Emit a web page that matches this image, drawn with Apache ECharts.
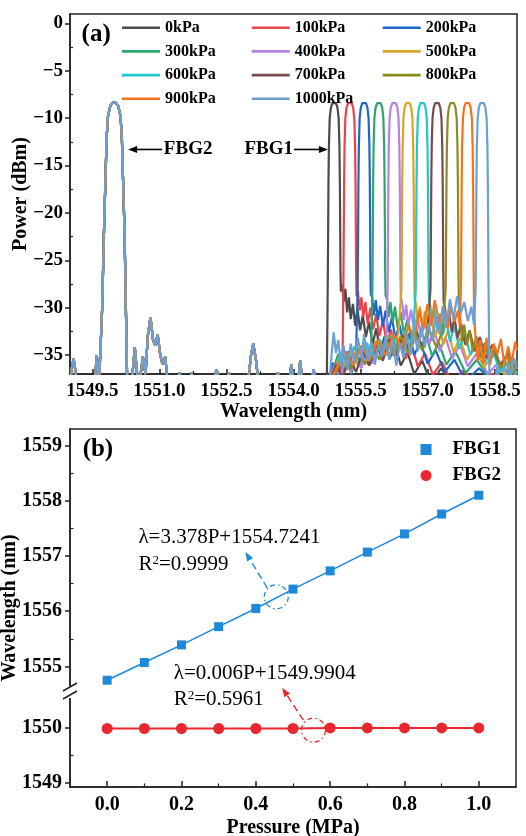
<!DOCTYPE html>
<html><head><meta charset="utf-8">
<script src="https://cdn.jsdelivr.net/npm/echarts@6/dist/echarts.min.js"></script>
<style>html,body{margin:0;padding:0;background:#fff}#c{width:526px;height:836px}</style>
</head><body><div id="c"></div>
<script>
const FONT = '"Liberation Serif","Times New Roman",serif';

// ---------- Panel (a) data ----------
const pressureNames = ['0kPa','100kPa','200kPa','300kPa','400kPa','500kPa','600kPa','700kPa','800kPa','900kPa','1000kPa'];
const lineColors = ['#4b4b4b','#e8444c','#1f66c9','#2fa46e','#b683e2','#d6a52a','#21c7c9','#7a4a4c','#8d8c1f','#f2741f','#6f9fd2'];
const wlTicks = [1549.5,1551.0,1552.5,1554.0,1555.5,1557.0,1558.5];
const wlMinor = [1550.25,1551.75,1553.25,1554.75,1556.25,1557.75];
const powerTicks = [0,-5,-10,-15,-20,-25,-30,-35];
const powerMinor = [-2.5,-7.5,-12.5,-17.5,-22.5,-27.5,-32.5];

// FBG2 region (common to all spectra), flat [wavelength, dBm, ...]
const fbg2Part = [1549.0,-38, 1549.04,-36.4, 1549.08,-35.4, 1549.12,-36.6, 1549.16,-38, 1549.55,-38, 1549.6,-35.0, 1549.65,-38, 1549.68,-38, 1549.72,-30, 1549.76,-22, 1549.79,-17, 1549.82,-12, 1549.85,-9.8, 1549.9,-8.7, 1549.96,-8.35, 1550.02,-8.35, 1550.08,-8.7, 1550.13,-9.8, 1550.16,-12, 1550.19,-17, 1550.22,-22, 1550.25,-30, 1550.28,-38, 1550.38,-38, 1550.45,-34.2, 1550.52,-38, 1550.58,-37, 1550.63,-35.2, 1550.69,-37, 1550.74,-33, 1550.80,-31, 1550.86,-33.5, 1550.91,-34, 1550.96,-32.8, 1551.02,-35, 1551.07,-36, 1551.13,-35.2, 1551.19,-38, 1551.4,-38, 1551.45,-36.8, 1551.5,-38, 1551.68,-38, 1551.72,-36.8, 1551.76,-38, 1552.2,-38, 1552.28,-36.5, 1552.35,-38, 1552.5,-38, 1552.55,-36.8, 1552.6,-38, 1552.98,-38, 1553.05,-35, 1553.1,-33.8, 1553.16,-35.5, 1553.22,-38, 1553.6,-38, 1553.65,-36.8, 1553.7,-38, 1553.9,-38, 1553.95,-36, 1554.0,-38, 1554.1,-38, 1554.15,-35.6, 1554.2,-38, 1554.4,-38, 1554.45,-36.5, 1554.5,-38];

// FBG1 region per pressure
const fbg1_0 = [1554.745,-38, 1554.765,-28, 1554.775,-22, 1554.782,-17, 1554.792,-13, 1554.81,-10, 1554.835,-8.9, 1554.87,-8.4, 1554.91,-8.25, 1554.95,-8.4, 1554.985,-8.9, 1555.01,-10, 1555.028,-13, 1555.038,-17, 1555.045,-22, 1555.05,-26, 1555.06,-28.3,
 1555.09,-27.6, 1555.12,-29.4, 1555.16,-28.0, 1555.2,-30.5, 1555.24,-28.9, 1555.28,-31.2, 1555.33,-29.6, 1555.38,-31.9, 1555.43,-30.1, 1555.49,-32.4, 1555.55,-30.8, 1555.62,-33.1, 1555.69,-31.5, 1555.77,-33.9, 1555.85,-32.2, 1555.94,-34.6, 1556.04,-33.0, 1556.15,-35.4, 1556.27,-33.8, 1556.4,-36.1, 1556.55,-34.7, 1556.7,-37.0, 1556.88,-35.6, 1557.08,-38, 1557.3,-36.4, 1557.55,-38, 1557.8,-36.9, 1558.1,-38, 1558.45,-37.2, 1558.8,-38, 1559.0,-37.5];
const fbg1_1 = [1554.8,-38, 1554.86,-36.2, 1554.93,-37.6, 1555.0,-35.4, 1555.06,-37.0, 1555.1,-34.2,
 1555.115,-28, 1555.125,-22, 1555.132,-17, 1555.142,-13, 1555.16,-10, 1555.185,-8.9, 1555.22,-8.4, 1555.26,-8.25, 1555.30,-8.4, 1555.335,-8.9, 1555.36,-10, 1555.378,-13, 1555.388,-17, 1555.395,-22, 1555.40,-26, 1555.41,-28.8,
 1555.44,-28.2, 1555.48,-30.3, 1555.52,-28.9, 1555.56,-31.0, 1555.61,-29.4, 1555.66,-31.7, 1555.72,-30.0, 1555.78,-32.3, 1555.85,-30.7, 1555.92,-33.0, 1556.0,-31.4, 1556.09,-33.8, 1556.18,-32.3, 1556.28,-34.6, 1556.39,-33.1, 1556.51,-35.4, 1556.64,-33.9, 1556.78,-36.2, 1556.94,-34.8, 1557.12,-37.1, 1557.32,-35.7, 1557.55,-38, 1557.8,-36.6, 1558.1,-38, 1558.45,-37.0, 1558.8,-38, 1559.0,-37.4];
const fbg1_2 = [1554.8,-38, 1554.88,-35.8, 1554.96,-37.4, 1555.05,-35.0, 1555.14,-36.8, 1555.23,-34.6, 1555.32,-36.5, 1555.4,-34.9,
 1555.435,-28, 1555.445,-22, 1555.452,-17, 1555.462,-13, 1555.48,-10, 1555.505,-8.9, 1555.54,-8.4, 1555.58,-8.25, 1555.62,-8.4, 1555.655,-8.9, 1555.68,-10, 1555.698,-13, 1555.708,-17, 1555.715,-22, 1555.72,-26, 1555.73,-28.6,
 1555.76,-28.9, 1555.8,-30.8, 1555.84,-29.2, 1555.89,-31.3, 1555.94,-29.8, 1556.0,-32.0, 1556.06,-30.3, 1556.13,-32.6, 1556.2,-31.0, 1556.28,-33.3, 1556.37,-31.8, 1556.47,-34.1, 1556.58,-32.7, 1556.7,-35.0, 1556.84,-33.6, 1557.0,-35.9, 1557.18,-34.5, 1557.38,-36.8, 1557.6,-35.5, 1557.85,-37.8, 1558.15,-36.4, 1558.5,-38, 1558.8,-37.1, 1559.0,-38];
const fbg1_3 = [1554.8,-38, 1554.9,-36.4, 1555.0,-34.9, 1555.1,-36.7, 1555.2,-35.1, 1555.3,-37.0, 1555.4,-34.8, 1555.5,-36.3, 1555.6,-34.5, 1555.68,-36.1, 1555.74,-33.6,
 1555.765,-28, 1555.775,-22, 1555.782,-17, 1555.792,-13, 1555.81,-10, 1555.835,-8.9, 1555.87,-8.4, 1555.91,-8.25, 1555.95,-8.4, 1555.985,-8.9, 1556.01,-10, 1556.028,-13, 1556.038,-17, 1556.045,-22, 1556.05,-26, 1556.06,-28.7,
 1556.09,-29.1, 1556.13,-31.0, 1556.17,-29.4, 1556.22,-31.6, 1556.27,-29.9, 1556.33,-32.1, 1556.4,-30.5, 1556.47,-32.8, 1556.55,-31.2, 1556.64,-33.5, 1556.74,-32.0, 1556.85,-34.3, 1556.97,-32.9, 1557.1,-35.1, 1557.25,-33.7, 1557.42,-36.0, 1557.62,-34.6, 1557.85,-36.9, 1558.1,-35.5, 1558.4,-37.6, 1558.7,-36.4, 1559.0,-37.8];
const fbg1_4 = [1554.8,-38, 1554.92,-36.0, 1555.04,-37.5, 1555.16,-35.3, 1555.28,-36.9, 1555.4,-34.7, 1555.52,-36.4, 1555.64,-34.2, 1555.76,-35.9, 1555.88,-33.8, 1556.0,-35.4, 1556.08,-33.2,
 1556.105,-28, 1556.115,-22, 1556.122,-17, 1556.132,-13, 1556.15,-10, 1556.175,-8.9, 1556.21,-8.4, 1556.25,-8.25, 1556.29,-8.4, 1556.325,-8.9, 1556.35,-10, 1556.368,-13, 1556.378,-17, 1556.385,-22, 1556.39,-26, 1556.40,-28.9,
 1556.43,-29.4, 1556.47,-31.3, 1556.52,-29.7, 1556.57,-31.9, 1556.63,-30.2, 1556.7,-32.4, 1556.77,-30.8, 1556.85,-33.1, 1556.94,-31.5, 1557.04,-33.8, 1557.15,-32.3, 1557.27,-34.6, 1557.4,-33.1, 1557.55,-35.4, 1557.72,-33.9, 1557.9,-36.2, 1558.1,-34.8, 1558.35,-37.0, 1558.6,-35.7, 1558.85,-37.6, 1559.0,-36.8];
const fbg1_5 = [1554.8,-38, 1554.93,-36.3, 1555.06,-34.8, 1555.19,-36.6, 1555.32,-34.4, 1555.45,-36.2, 1555.58,-33.9, 1555.71,-35.7, 1555.84,-33.5, 1555.97,-35.2, 1556.1,-33.0, 1556.23,-34.9, 1556.35,-32.6,
 1556.415,-28, 1556.425,-22, 1556.432,-17, 1556.442,-13, 1556.46,-10, 1556.485,-8.9, 1556.52,-8.4, 1556.56,-8.25, 1556.60,-8.4, 1556.635,-8.9, 1556.66,-10, 1556.678,-13, 1556.688,-17, 1556.695,-22, 1556.70,-26, 1556.71,-29.0,
 1556.74,-29.6, 1556.78,-31.5, 1556.83,-29.9, 1556.88,-32.0, 1556.94,-30.4, 1557.01,-32.6, 1557.08,-31.0, 1557.16,-33.2, 1557.25,-31.6, 1557.35,-33.9, 1557.46,-32.4, 1557.58,-34.7, 1557.72,-33.2, 1557.88,-35.5, 1558.06,-34.0, 1558.26,-36.3, 1558.48,-34.9, 1558.72,-37.1, 1559.0,-35.8];
const fbg1_6 = [1554.8,-38, 1554.94,-36.5, 1555.08,-34.6, 1555.22,-36.4, 1555.36,-34.1, 1555.5,-35.9, 1555.64,-33.7, 1555.78,-35.5, 1555.92,-33.3, 1556.06,-35.0, 1556.2,-32.8, 1556.34,-34.6, 1556.48,-32.4, 1556.6,-34.2, 1556.68,-32.5,
 1556.735,-28, 1556.745,-22, 1556.752,-17, 1556.762,-13, 1556.78,-10, 1556.805,-8.9, 1556.84,-8.4, 1556.88,-8.25, 1556.92,-8.4, 1556.955,-8.9, 1556.98,-10, 1556.998,-13, 1557.008,-17, 1557.015,-22, 1557.02,-26, 1557.03,-29.2,
 1557.06,-29.8, 1557.1,-31.7, 1557.15,-30.1, 1557.21,-32.3, 1557.27,-30.6, 1557.34,-32.9, 1557.42,-31.3, 1557.5,-33.6, 1557.6,-32.0, 1557.71,-34.3, 1557.83,-32.8, 1557.96,-35.0, 1558.1,-33.6, 1558.26,-35.9, 1558.44,-34.5, 1558.64,-36.8, 1558.85,-35.4, 1559.0,-37.0];
const fbg1_7 = [1554.8,-38, 1554.95,-36.0, 1555.1,-37.4, 1555.25,-35.2, 1555.4,-36.8, 1555.55,-34.5, 1555.7,-36.1, 1555.85,-33.9, 1556.0,-35.6, 1556.15,-33.3, 1556.3,-35.1, 1556.45,-32.9, 1556.6,-34.7, 1556.75,-32.6, 1556.9,-34.3, 1557.0,-32.2,
 1557.065,-28, 1557.075,-22, 1557.082,-17, 1557.092,-13, 1557.11,-10, 1557.135,-8.9, 1557.17,-8.4, 1557.21,-8.25, 1557.25,-8.4, 1557.285,-8.9, 1557.31,-10, 1557.328,-13, 1557.338,-17, 1557.345,-22, 1557.35,-26, 1557.36,-29.4,
 1557.39,-30.1, 1557.43,-32.0, 1557.48,-30.5, 1557.54,-32.6, 1557.6,-31.0, 1557.67,-33.2, 1557.75,-31.7, 1557.84,-33.9, 1557.94,-32.4, 1558.05,-34.6, 1558.17,-33.1, 1558.3,-35.3, 1558.45,-33.9, 1558.62,-36.1, 1558.8,-34.8, 1559.0,-36.6];
const fbg1_8 = [1554.8,-38, 1554.96,-36.7, 1555.12,-34.9, 1555.28,-36.5, 1555.44,-34.3, 1555.6,-36.0, 1555.76,-33.8, 1555.92,-35.5, 1556.08,-33.4, 1556.24,-35.1, 1556.4,-33.0, 1556.56,-34.8, 1556.72,-32.7, 1556.88,-34.5, 1557.04,-32.4, 1557.2,-34.2, 1557.34,-32.3,
 1557.405,-28, 1557.415,-22, 1557.422,-17, 1557.432,-13, 1557.45,-10, 1557.475,-8.9, 1557.51,-8.4, 1557.55,-8.25, 1557.59,-8.4, 1557.625,-8.9, 1557.65,-10, 1557.668,-13, 1557.678,-17, 1557.685,-22, 1557.69,-26, 1557.70,-30.0,
 1557.73,-31.2, 1557.77,-33.5, 1557.82,-31.8, 1557.88,-34.0, 1557.94,-32.4, 1558.01,-34.6, 1558.09,-33.0, 1558.18,-35.2, 1558.28,-33.7, 1558.39,-35.8, 1558.51,-34.3, 1558.64,-36.4, 1558.78,-35.0, 1558.92,-37.0, 1559.0,-35.6];
const fbg1_9 = [1554.8,-38, 1554.98,-36.2, 1555.16,-34.6, 1555.34,-36.1, 1555.52,-34.0, 1555.7,-35.6, 1555.88,-33.4, 1556.06,-35.0, 1556.24,-32.8, 1556.42,-34.2, 1556.58,-31.8, 1556.7,-33.5, 1556.82,-30.2, 1556.9,-32.4, 1557.0,-29.6, 1557.08,-31.9, 1557.16,-29.2, 1557.26,-31.6, 1557.36,-30.0, 1557.45,-32.2, 1557.52,-29.8, 1557.6,-31.5, 1557.68,-30.3, 1557.72,-32.0,
 1557.745,-28, 1557.755,-22, 1557.762,-17, 1557.772,-13, 1557.79,-10, 1557.815,-8.9, 1557.85,-8.4, 1557.89,-8.25, 1557.93,-8.4, 1557.965,-8.9, 1557.99,-10, 1558.008,-13, 1558.018,-17, 1558.025,-22, 1558.03,-26, 1558.04,-30.5,
 1558.07,-33.0, 1558.12,-35.6, 1558.18,-33.4, 1558.25,-35.9, 1558.32,-33.2, 1558.4,-36.0, 1558.48,-33.8, 1558.56,-34.9, 1558.64,-33.3, 1558.72,-36.2, 1558.8,-34.1, 1558.88,-35.8, 1558.96,-33.6, 1559.0,-34.5];
const fbg1_10 = [1554.8,-38, 1554.86,-34.5, 1554.9,-32.6, 1554.95,-34.8, 1555.0,-33.4, 1555.06,-36.2, 1555.12,-34.0, 1555.2,-36.5, 1555.28,-33.8, 1555.36,-35.9, 1555.44,-33.2, 1555.52,-35.4, 1555.58,-32.8, 1555.66,-35.6, 1555.74,-33.6, 1555.82,-36.0, 1555.9,-33.9, 1555.98,-35.2, 1556.06,-33.0, 1556.14,-35.5, 1556.22,-33.4, 1556.3,-36.1, 1556.38,-33.7, 1556.46,-35.3, 1556.54,-32.9, 1556.62,-35.0, 1556.7,-32.5, 1556.78,-34.6, 1556.86,-32.0, 1556.94,-34.2, 1557.02,-31.6, 1557.1,-33.5, 1557.18,-30.9, 1557.26,-32.8, 1557.34,-29.8, 1557.42,-31.9, 1557.5,-29.1, 1557.58,-31.2, 1557.66,-28.8, 1557.74,-30.6, 1557.82,-29.4, 1557.9,-31.4, 1557.98,-29.9, 1558.04,-31.8,
 1558.075,-28, 1558.085,-22, 1558.092,-17, 1558.102,-13, 1558.12,-10, 1558.145,-8.9, 1558.18,-8.4, 1558.22,-8.25, 1558.26,-8.4, 1558.295,-8.9, 1558.32,-10, 1558.338,-13, 1558.348,-17, 1558.355,-22, 1558.36,-26, 1558.37,-31, 1558.385,-38,
 1558.5,-38, 1558.56,-36.2, 1558.62,-38, 1558.75,-38, 1558.8,-35.8, 1558.86,-37.4, 1558.93,-35.3, 1559.0,-36.5];
const fbg1Parts = [fbg1_0,fbg1_1,fbg1_2,fbg1_3,fbg1_4,fbg1_5,fbg1_6,fbg1_7,fbg1_8,fbg1_9,fbg1_10];

// ---------- Panel (b) data ----------
const pressureMPa = [0,0.1,0.2,0.3,0.4,0.5,0.6,0.7,0.8,0.9,1.0];
const fbg1Wl = [1554.75,1555.07,1555.39,1555.72,1556.05,1556.40,1556.73,1557.07,1557.40,1557.76,1558.10];
const fbg2Wl = [1549.99,1549.99,1549.99,1549.99,1549.99,1549.99,1550.0,1550.0,1550.0,1550.0,1550.0];
const pTicks = [0,0.2,0.4,0.6,0.8,1.0];
const pMinor = [0.1,0.3,0.5,0.7,0.9];
const upperTicks = [1555,1556,1557,1558,1559];
const upperMinor = [1555.5,1556.5,1557.5,1558.5];
const lowerTicks = [1549,1550];
const lowerMinor = [1549.5];

function pairs(flat){ const out=[]; for(let i=0;i<flat.length;i+=2) out.push([flat[i],flat[i+1]]); return out; }

const AX = '#222';
const lbl = (size, extra) => Object.assign({color:'#000', fontFamily:FONT, fontWeight:'bold', fontSize:size}, extra||{});
const minus = v => (v < 0 ? '\u2212' + (-v) : String(v));
const plain = v => String(v);

const specSeries = pressureNames.map((n,i)=>({
  name:n, type:'line', xAxisIndex:0, yAxisIndex:0, symbol:'none', clip:true,
  data: pairs(fbg2Part).concat(pairs(fbg1Parts[i])),
  lineStyle:{color:lineColors[i], width:2.2}, itemStyle:{color:lineColors[i]}, z:2
}));

function legendA(left, names){
  return {left:left, top:19.7, orient:'vertical', padding:0, itemWidth:38, itemHeight:2.6, itemGap:7.7, icon:'rect',
    data:names, textStyle:lbl(16,{lineHeight:14}), selectedMode:false};
}

const line = {show:true, onZero:false, lineStyle:{color:AX, width:1.5}};
const noLine = {show:false, onZero:false};
const G = {containLabel:false, outerBoundsMode:'none'};

const option = {
  animation:false, backgroundColor:'#fff',
  grid:[
    {...G, left:70, top:14, width:447, height:360, show:true, borderColor:AX, borderWidth:1.5, backgroundColor:'transparent'},
    {...G, left:70, top:429, width:446, height:265, show:false},
    {...G, left:70, top:694, width:446, height:93, show:false},
    {...G, left:70, top:429, width:446, height:358, show:true, borderColor:AX, borderWidth:1.5, backgroundColor:'transparent'}
  ],
  legend:[
    legendA(122, ['0kPa','300kPa','600kPa','900kPa']),
    legendA(251.7, ['100kPa','400kPa','700kPa','1000kPa']),
    legendA(382.7, ['200kPa','500kPa','800kPa']),
    {left:420.5, top:440, orient:'vertical', padding:0, itemWidth:11, itemHeight:11, itemGap:7, selectedMode:false,
     data:[{name:'FBG1', icon:'rect'},{name:'FBG2', icon:'circle'}],
     textStyle:lbl(19,{padding:[0,0,0,16], lineHeight:19})}
  ],
  xAxis:[
    {gridIndex:0, type:'value', min:1549, max:1559, position:'bottom', axisLine:line,
     axisTick:{show:true, inside:true, length:5, customValues:wlTicks, lineStyle:{color:AX, width:1.5}},
     axisLabel:{customValues:wlTicks, formatter:v=>v.toFixed(1), margin:8, ...lbl(19)},
     splitLine:{show:false},
     name:'Wavelength (nm)', nameLocation:'middle', nameGap:27, nameTextStyle:lbl(20)},
    {gridIndex:0, type:'value', min:1549, max:1559, position:'bottom', axisLine:noLine,
     axisTick:{show:true, inside:true, length:3, customValues:wlMinor, lineStyle:{color:AX, width:1.2}},
     axisLabel:{show:false}, splitLine:{show:false}},
    {gridIndex:1, type:'value', min:-0.1, max:1.1, show:false, axisLine:noLine, splitLine:{show:false}},
    {gridIndex:2, type:'value', min:-0.1, max:1.1, position:'bottom', axisLine:line,
     axisTick:{show:true, inside:true, length:6, customValues:pTicks, lineStyle:{color:AX, width:1.5}},
     axisLabel:{customValues:pTicks, formatter:v=>v.toFixed(1), margin:8, ...lbl(20)},
     splitLine:{show:false},
     name:'Pressure (MPa)', nameLocation:'middle', nameGap:31, nameTextStyle:lbl(20)},
    {gridIndex:2, type:'value', min:-0.1, max:1.1, position:'bottom', axisLine:noLine,
     axisTick:{show:true, inside:true, length:3.5, customValues:pMinor, lineStyle:{color:AX, width:1.2}},
     axisLabel:{show:false}, splitLine:{show:false}},
    {gridIndex:3, type:'value', min:0, max:1, show:false, axisLine:noLine}
  ],
  yAxis:[
    {gridIndex:0, type:'value', min:-37, max:1, position:'left', axisLine:line,
     axisTick:{show:true, inside:false, length:5, customValues:powerTicks, lineStyle:{color:AX, width:1.5}},
     axisLabel:{customValues:powerTicks, formatter:minus, margin:7, ...lbl(19)},
     splitLine:{show:false}},
    {gridIndex:0, type:'value', min:-37, max:1, position:'left', axisLine:noLine,
     axisTick:{show:true, inside:true, length:3, customValues:powerMinor, lineStyle:{color:AX, width:1.2}},
     axisLabel:{show:false}, splitLine:{show:false}},
    {gridIndex:1, type:'value', min:1554.5, max:1559.3, position:'left', axisLine:line,
     axisTick:{show:true, inside:false, length:5, customValues:upperTicks, lineStyle:{color:AX, width:1.5}},
     axisLabel:{customValues:upperTicks, formatter:plain, margin:8, ...lbl(20)},
     splitLine:{show:false}},
    {gridIndex:1, type:'value', min:1554.5, max:1559.3, position:'left', axisLine:noLine,
     axisTick:{show:true, inside:true, length:3.5, customValues:upperMinor, lineStyle:{color:AX, width:1.2}},
     axisLabel:{show:false}, splitLine:{show:false}},
    {gridIndex:2, type:'value', min:1548.93, max:1550.615, position:'left', axisLine:line,
     axisTick:{show:true, inside:false, length:5, customValues:lowerTicks, lineStyle:{color:AX, width:1.5}},
     axisLabel:{customValues:lowerTicks, formatter:plain, margin:8, ...lbl(20)},
     splitLine:{show:false}},
    {gridIndex:2, type:'value', min:1548.93, max:1550.615, position:'left', axisLine:noLine,
     axisTick:{show:true, inside:true, length:3.5, customValues:lowerMinor, lineStyle:{color:AX, width:1.2}},
     axisLabel:{show:false}, splitLine:{show:false}},
    {gridIndex:3, type:'value', min:0, max:1, show:false, axisLine:noLine}
  ],
  series: specSeries.concat([
    {name:'FBG1', type:'line', xAxisIndex:2, yAxisIndex:2, symbol:'rect', symbolSize:9,
     data: pressureMPa.map((p,i)=>[p, fbg1Wl[i]]),
     lineStyle:{color:'#1e88d9', width:1.6}, itemStyle:{color:'#1e88d9'}, z:3},
    {name:'FBG2', type:'line', xAxisIndex:3, yAxisIndex:4, symbol:'circle', symbolSize:11,
     data: pressureMPa.map((p,i)=>[p, fbg2Wl[i]]),
     lineStyle:{color:'#e8282e', width:2}, itemStyle:{color:'#e8282e'}, z:3}
  ])
};

const chart = echarts.init(document.getElementById('c'), null, {renderer:'canvas'});
chart.setOption(option);

// ---------- annotations (anchored in data space) ----------
const pA = (x,y)=>chart.convertToPixel({xAxisIndex:0, yAxisIndex:0},[x,y]);
const pU = (x,y)=>chart.convertToPixel({xAxisIndex:2, yAxisIndex:2},[x,y]);
const pL = (x,y)=>chart.convertToPixel({xAxisIndex:3, yAxisIndex:4},[x,y]);

function txt(p, text, size, bold, align, rich){
  const st = {text:text, fontFamily:FONT, fontSize:size, fontWeight:bold?'bold':'normal', fill:'#000', align:align||'left', verticalAlign:'middle'};
  if (rich) st.rich = rich;
  return {type:'text', x:p[0], y:p[1], style:st, silent:true, z:100};
}
function vtxt(x, y, text){
  return {type:'text', x:x, y:y, rotation:Math.PI/2, style:{text:text, fontFamily:FONT, fontSize:20, fontWeight:'bold', fill:'#000', align:'center', verticalAlign:'middle'}, silent:true, z:100};
}
function arrow(p1, p2, color, dash, headL, headW, lw){
  const dx=p2[0]-p1[0], dy=p2[1]-p1[1], L=Math.hypot(dx,dy), ux=dx/L, uy=dy/L;
  const bx=p2[0]-ux*headL, by=p2[1]-uy*headL;
  return [
    {type:'line', shape:{x1:p1[0],y1:p1[1],x2:bx+ux*1,y2:by+uy*1}, style:{stroke:color, lineWidth:lw, lineDash:dash||null}, silent:true, z:100},
    {type:'polygon', shape:{points:[[p2[0],p2[1]],[bx-uy*headW,by+ux*headW],[bx+uy*headW,by-ux*headW]]}, style:{fill:color}, silent:true, z:100}
  ];
}
function ring(p, r, color){
  return {type:'ellipse', shape:{cx:p[0], cy:p[1], rx:r, ry:r}, style:{fill:null, stroke:color, lineWidth:1.3, lineDash:[5,3,1.5,3]}, silent:true, z:100};
}
const supRich = {s:{fontFamily:FONT, fontSize:13, verticalAlign:'top', lineHeight:22, padding:[0,0,8,0]}, n:{fontFamily:FONT, fontSize:21, lineHeight:22}};

const aTopLeft = pA(1549, 1), aBotLeft = pA(1549, -37);
const bTop = pU(-0.1, 1559.3), bBot = pL(-0.1, 1548.93);
const leftPx = pU(-0.1, 1554.5)[0];
const breakY = pU(-0.1, 1554.5)[1] - 2;

const graphics = [
  // rotated y-axis titles
  vtxt(aTopLeft[0] - 49, (aTopLeft[1] + aBotLeft[1]) / 2, 'Power (dBm)'),
  vtxt(bTop[0] - 60, (bTop[1] + bBot[1]) / 2, 'Wavelength (nm)'),

  txt(pA(1549.26, -1.2), '(a)', 25, true),
  ...arrow(pA(1551.06,-13.3), pA(1550.30,-13.3), '#000', null, 9, 3.5, 1.6),
  txt(pA(1551.10, -13.3), 'FBG2', 19, true),
  txt(pA(1553.99, -13.3), 'FBG1', 19, true, 'right'),
  ...arrow(pA(1554.01,-13.3), pA(1554.77,-13.3), '#000', null, 9, 3.5, 1.6),

  txt(pU(-0.066, 1558.92), '(b)', 25, true),
  txt(pU(0.084, 1557.33), '\u03bb=3.378P+1554.7241', 21, false),
  txt(pU(0.084, 1556.84), '{n|R}{s|2}{n|=0.9999}', 21, false, 'left', supRich),
  ...arrow(pU(0.431,1556.42), pU(0.372,1557.07), '#1e88d9', [7,4], 9, 3.5, 1.4),
  ring(pU(0.455, 1556.26), 12, '#1e88d9'),

  txt(pU(0.179, 1554.88), '\u03bb=0.006P+1549.9904', 21, false),
  txt(pL(0.179, 1550.51), '{n|R}{s|2}{n|=0.5961}', 21, false, 'left', supRich),
  ...arrow(pL(0.528,1550.14), pU(0.471,1554.61), '#e8282e', [7,4], 9, 3.5, 1.4),
  ring(pL(0.555, 1549.96), 12, '#e8282e'),

  // axis break mark on the left axis of panel (b)
  {type:'rect', shape:{x:leftPx-4, y:breakY-6, width:8, height:12}, style:{fill:'#fff'}, silent:true, z:101},
  {type:'line', shape:{x1:leftPx-7, y1:breakY-1, x2:leftPx+7, y2:breakY-9}, style:{stroke:AX, lineWidth:1.5}, silent:true, z:102},
  {type:'line', shape:{x1:leftPx-7, y1:breakY+7, x2:leftPx+7, y2:breakY-1}, style:{stroke:AX, lineWidth:1.5}, silent:true, z:102}
];
chart.setOption({graphic: graphics});
</script>
</body></html>
